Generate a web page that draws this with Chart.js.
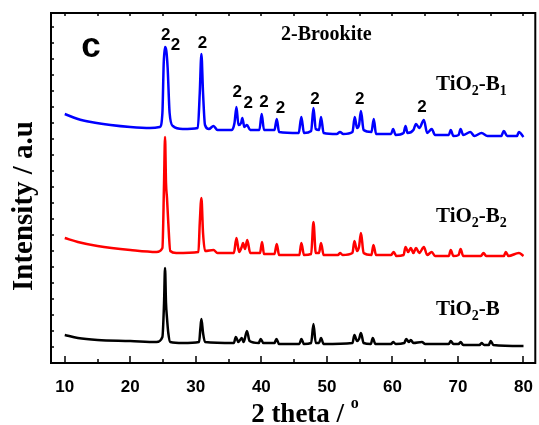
<!DOCTYPE html>
<html>
<head>
<meta charset="utf-8">
<script src="https://cdn.jsdelivr.net/npm/chart.js@4.4.1/dist/chart.umd.min.js"></script>
<style>
  body { margin: 0; background: #fff; }
  canvas { display: block; }
</style>
</head>
<body>
<canvas id="xrd" width="539" height="425"></canvas>
<script>
// TiO2-B1 (zils)
var b1Theta = [10, 12, 14, 17, 20, 23, 24.5, 24.9, 25.1, 25.3, 25.5, 25.7, 26.0, 26.5, 28, 30.3, 30.6, 30.85, 31.1, 31.4, 32, 32.7, 33.3, 35.5, 35.9, 36.2, 36.5, 36.9, 37.1, 37.4, 37.8, 38.3, 39.7, 40.05, 40.4, 42.0, 42.35, 42.7, 45.7, 46.1, 46.5, 47.6, 47.95, 48.3, 48.8, 49.1, 49.5, 51.5, 52.0, 52.5, 53.9, 54.25, 54.6, 54.9, 55.2, 55.6, 56.8, 57.15, 57.5, 59.8, 60.1, 60.5, 61.7, 62.0, 62.3, 63.2, 63.6, 64.1, 64.8, 65.3, 66.0, 66.5, 68.6, 68.9, 69.3, 70.1, 70.4, 70.8, 71.9, 72.5, 73.6, 74.5, 76.6, 77.0, 77.5, 79.0, 79.3, 80];
var b1Int = [249, 244, 241, 238, 236, 235, 236, 250, 300, 316, 312, 295, 250, 237, 234, 235, 270, 309, 270, 238, 234, 237, 233, 233, 240, 256, 238, 240, 245, 236, 238, 233, 233, 249, 233, 233, 244, 231, 230, 246, 230, 232, 255, 234, 233, 246, 230, 229, 231, 229, 231, 246, 235, 238, 252, 233, 231, 244, 229, 229, 234, 228, 230, 237, 230, 233, 239, 235, 243, 230, 234, 228, 228, 233, 227, 228, 234, 228, 231, 227, 230, 227, 227, 232, 227, 227, 231, 226];

// TiO2-B2 (sarkans)
var b2Theta = [10, 12, 15, 20, 24, 24.9, 25.15, 25.3, 25.45, 25.6, 25.8, 26.1, 27, 30.4, 30.6, 30.85, 31.1, 31.4, 32.7, 33.3, 35.8, 36.2, 36.6, 37.0, 37.2, 37.5, 37.85, 38.3, 39.8, 40.1, 40.4, 42.0, 42.35, 42.7, 45.8, 46.1, 46.5, 47.6, 47.95, 48.3, 48.8, 49.1, 49.5, 51.7, 52.0, 52.4, 53.9, 54.2, 54.6, 54.9, 55.2, 55.6, 56.8, 57.1, 57.5, 59.8, 60.2, 60.6, 61.7, 62.0, 62.4, 62.8, 63.2, 63.6, 64.1, 64.8, 65.3, 66.0, 66.5, 68.6, 68.9, 69.3, 70.1, 70.4, 70.8, 73.5, 73.9, 74.3, 77, 77.3, 77.7, 79.3, 80];
var b2Int = [125, 121, 117, 113, 111, 115, 180, 226, 180, 165, 140, 112, 110, 111, 140, 165, 130, 112, 113, 110, 110, 125, 111, 116, 120, 114, 123, 110, 110, 121, 109, 109, 119, 108, 108, 120, 108, 109, 141, 110, 110, 120, 108, 108, 110, 108, 110, 122, 112, 116, 130, 110, 108, 118, 108, 108, 111, 107, 108, 116, 111, 115, 110, 115, 110, 116, 108, 111, 107, 107, 113, 107, 108, 114, 107, 107, 110, 107, 107, 111, 107, 110, 107];

// TiO2-B (melns)
var bTheta = [10, 12, 15, 20, 24, 24.9, 25.15, 25.3, 25.45, 25.6, 25.8, 26.1, 28, 30.5, 30.7, 30.85, 31.1, 31.4, 35.8, 36.1, 36.5, 37.0, 37.3, 37.8, 38.2, 39.6, 39.9, 40.3, 42.0, 42.3, 42.7, 45.8, 46.1, 46.5, 47.6, 47.95, 48.3, 48.8, 49.1, 49.5, 53.9, 54.2, 54.6, 54.9, 55.2, 55.6, 56.7, 57.0, 57.4, 59.8, 60.1, 60.5, 61.8, 62.1, 62.5, 62.8, 63.2, 64.5, 65, 68.6, 68.9, 69.3, 70.1, 70.4, 70.8, 73.3, 73.6, 74, 74.7, 75.0, 75.4, 80];
var bInt = [28, 25, 23, 22, 21, 26, 60, 95, 60, 45, 30, 21, 20, 21, 35, 44, 30, 21, 20, 26, 21, 25, 21, 32, 22, 20, 24, 20, 20, 24, 19, 19, 24, 19, 20, 39, 20, 20, 25, 19, 20, 28, 22, 24, 30, 20, 19, 25, 19, 19, 21, 19, 20, 24, 21, 23, 20, 21, 19, 19, 22, 19, 19, 21, 18, 18, 20, 18, 18, 22, 18, 17];

// Brukīta virsotņu atzīmes "2"
var markTheta = [25.4, 26.9, 31.0, 36.3, 38.0, 40.4, 42.9, 48.2, 55.0, 64.5];
var markInt = [328, 318, 320, 271, 260, 261, 255, 264, 264, 256];

// Ass iestatījumi
var xTicks = [10, 20, 30, 40, 50, 60, 70, 80];
var xMinor = [15, 25, 35, 45, 55, 65, 75];

function toPoints(xs, ys) {
    return xs.map(function (x, i) { return { x: x, y: ys[i] }; });
}

// Paraksts ar apakšindeksu
function drawSubLabel(ctx, x, y, parts) {
    var cx = x;
    parts.forEach(function (p) {
        ctx.font = p.sub ? 'bold 14px "Liberation Serif"' : 'bold 21px "Liberation Serif"';
        ctx.fillText(p.t, cx, p.sub ? y + 5 : y);
        cx += ctx.measureText(p.t).width;
    });
}

var decor = {
    id: 'decor',
    afterDraw: function (chart) {
        var ctx = chart.ctx;
        var a = chart.chartArea;
        var xs = chart.scales.x;
        var ys = chart.scales.y;
        ctx.save();
        ctx.strokeStyle = '#000';
        ctx.fillStyle = '#000';

        // Rāmis
        ctx.lineWidth = 2;
        ctx.strokeRect(a.left, a.top, a.right - a.left, a.bottom - a.top);

        // X ass iekšējās atzīmes
        ctx.lineWidth = 1.5;
        ctx.beginPath();
        xTicks.forEach(function (v) {
            var px = Math.round(xs.getPixelForValue(v));
            ctx.moveTo(px, a.bottom); ctx.lineTo(px, a.bottom - 7);
            ctx.moveTo(px, a.top); ctx.lineTo(px, a.top + 3);
        });
        xMinor.forEach(function (v) {
            var px = Math.round(xs.getPixelForValue(v));
            ctx.moveTo(px, a.bottom); ctx.lineTo(px, a.bottom - 4);
            ctx.moveTo(px, a.top); ctx.lineTo(px, a.top + 3);
        });
        // Y ass atzīmes
        for (var v = 16; v < 350; v += 16) {
            var py = Math.round(ys.getPixelForValue(v));
            ctx.moveTo(a.left, py); ctx.lineTo(a.left + 3, py);
        }
        ctx.stroke();

        // "2" atzīmes
        ctx.font = 'bold 17px "Liberation Sans"';
        ctx.textAlign = 'center';
        ctx.textBaseline = 'middle';
        markTheta.forEach(function (t, i) {
            ctx.fillText('2', xs.getPixelForValue(t), ys.getPixelForValue(markInt[i]));
        });

        // Paneļa burts
        ctx.font = 'bold 35px "Liberation Sans"';
        ctx.fillText('c', 91, 47);

        ctx.textAlign = 'left';
        ctx.textBaseline = 'alphabetic';
        ctx.font = 'bold 20px "Liberation Serif"';
        ctx.fillText('2-Brookite', 281, 40);

        drawSubLabel(ctx, 436, 90, [{ t: 'TiO' }, { t: '2', sub: true }, { t: '-B' }, { t: '1', sub: true }]);
        drawSubLabel(ctx, 436, 222, [{ t: 'TiO' }, { t: '2', sub: true }, { t: '-B' }, { t: '2', sub: true }]);
        drawSubLabel(ctx, 436, 315, [{ t: 'TiO' }, { t: '2', sub: true }, { t: '-B' }]);

        // X ass nosaukums
        ctx.font = 'bold 27px "Liberation Serif"';
        var xt = '2 theta / ';
        var w = ctx.measureText(xt).width;
        ctx.font = 'bold 16px "Liberation Serif"';
        var wo = ctx.measureText('o').width;
        var sx = 305 - (w + wo) / 2;
        ctx.font = 'bold 27px "Liberation Serif"';
        ctx.fillText(xt, sx, 422);
        ctx.font = 'bold 16px "Liberation Serif"';
        ctx.fillText('o', sx + w, 408);

        // Y ass nosaukums
        ctx.translate(25, 206);
        ctx.rotate(-Math.PI / 2);
        ctx.textAlign = 'center';
        ctx.textBaseline = 'middle';
        ctx.font = 'bold 29px "Liberation Serif"';
        ctx.fillText('Intensity / a.u', 0, 0);
        ctx.restore();
    }
};

var lineStyle = { pointRadius: 0, borderWidth: 2.5, cubicInterpolationMode: 'monotone', showLine: true, fill: false };

new Chart(document.getElementById('xrd').getContext('2d'), {
    type: 'scatter',
    data: {
        datasets: [
            Object.assign({ label: 'TiO2-B1', data: toPoints(b1Theta, b1Int), borderColor: '#0000ff' }, lineStyle),
            Object.assign({ label: 'TiO2-B2', data: toPoints(b2Theta, b2Int), borderColor: '#ff0000' }, lineStyle),
            Object.assign({ label: 'TiO2-B', data: toPoints(bTheta, bInt), borderColor: '#000000' }, lineStyle)
        ]
    },
    options: {
        responsive: false,
        animation: false,
        layout: { padding: { top: 13, right: 2, left: 0, bottom: 0 } },
        plugins: { legend: { display: false }, tooltip: { enabled: false } },
        scales: {
            x: {
                type: 'linear',
                min: 7.9,
                max: 81.8,
                grid: { display: false },
                border: { display: false },
                afterBuildTicks: function (s) {
                    s.ticks = xTicks.map(function (v) { return { value: v }; });
                },
                afterFit: function (s) { s.height = 62; },
                ticks: {
                    color: '#000',
                    padding: 6,
                    maxRotation: 0,
                    font: { family: '"Liberation Sans"', size: 17, weight: 'bold' }
                }
            },
            y: {
                min: 0,
                max: 350,
                grid: { display: false },
                border: { display: false },
                ticks: { display: false },
                afterFit: function (s) { s.width = 51; }
            }
        }
    },
    plugins: [decor]
});
</script>
</body>
</html>
